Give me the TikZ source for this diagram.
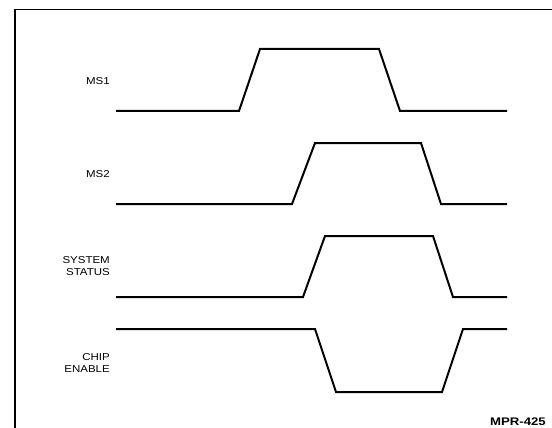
\documentclass[tikz,border=0pt]{standalone}
\usepackage{fontspec}
\newfontfamily\labfont[FakeStretch=1.15]{Liberation Sans}
\newfontfamily\capfont[FakeStretch=1.2]{Liberation Sans}
\begin{document}
\begin{tikzpicture}[x=1pt,y=-1pt,
  wave/.style={line width=2pt, line join=miter},
  frame/.style={line width=1.4pt},
  lab/.style={font=\labfont\fontsize{10}{12}\selectfont, align=right, inner sep=0pt, anchor=east},
  capt/.style={font=\capfont\bfseries\fontsize{11}{13}\selectfont, inner sep=0pt, anchor=east}]
\useasboundingbox (0,0) rectangle (552,428);
% frame
\draw[frame] (15,428) -- (15,9.5) -- (552,9.5);
% labels
\node[lab] (ms1) at (110,81) {MS1};
\node[lab] (ms2) at (110,174) {MS2};
\node[lab] (sys) at (110,266) {SYSTEM\\STATUS};
\node[lab] (ce) at (110,363) {CHIP\\ENABLE};
\node[capt] (mpr) at (546,422) {MPR-425};
% waveforms
\draw[wave] (116,111) -- (239,111) -- (260,49) -- (379,49) -- (400,111) -- (507,111);
\draw[wave] (116,204) -- (292,204) -- (315,143) -- (421,143) -- (441,204) -- (507,204);
\draw[wave] (116,297) -- (303,297) -- (325,236) -- (433,236) -- (453,297) -- (507,297);
\draw[wave] (116,329) -- (315,329) -- (336,392) -- (442,392) -- (463,329) -- (507,329);
\end{tikzpicture}
\end{document}
